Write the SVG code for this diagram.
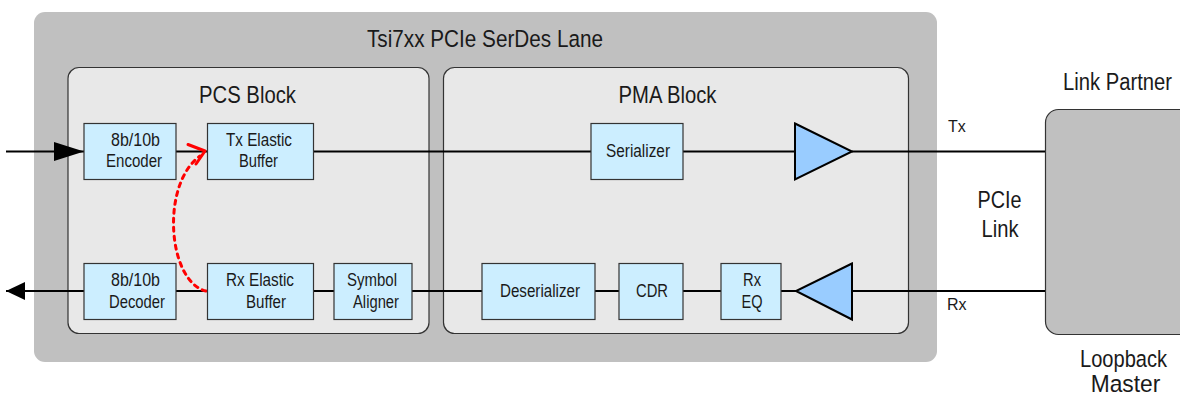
<svg xmlns="http://www.w3.org/2000/svg" width="1180" height="398" viewBox="0 0 1180 398">
<style>
  .big { font-family: "Liberation Sans", Arial, sans-serif; font-size: 24.5px; fill: #1a1a1a; text-anchor: middle; }
  .box { fill: #cceeff; stroke: #333; stroke-width: 1.2; }
  .bt { font-family: "Liberation Sans", Arial, sans-serif; font-size: 17.5px; fill: #1a1a1a; text-anchor: middle; }
  .lbl { font-family: "Liberation Sans", Arial, sans-serif; font-size: 16px; fill: #1a1a1a; }
  .blk { fill: #e8e8e8; stroke: #333; stroke-width: 1.2; }
  .amp { fill: #99ccff; stroke: #000; stroke-width: 2; }
  .wire { fill: none; stroke: #000; stroke-width: 2; }
  .loop { fill: none; stroke: #ff0000; stroke-width: 3; }
</style>
<defs>
  <marker id="inArrow" markerUnits="userSpaceOnUse" markerWidth="30" markerHeight="20" refX="30" refY="10" orient="auto">
    <path d="M0,0.5 L30,10 L0,19.5 z" fill="#000"/>
  </marker>
  <marker id="outArrow" markerUnits="userSpaceOnUse" markerWidth="20" markerHeight="20" refX="19" refY="10" orient="auto">
    <path d="M0,1 L19,10 L0,19 z" fill="#000"/>
  </marker>
</defs>

<g id="serdes-lane">
  <rect x="34" y="12" width="903" height="350" rx="11" fill="#c0c0c0"/>
  <text class="big" x="485" y="47" textLength="236" lengthAdjust="spacingAndGlyphs">Tsi7xx PCIe SerDes Lane</text>
</g>
<g id="pcs-block">
  <rect class="blk" x="68" y="67.5" width="361" height="266" rx="11"/>
  <text class="big" x="247.5" y="103" textLength="97" lengthAdjust="spacingAndGlyphs">PCS Block</text>
</g>
<g id="pma-block">
  <rect class="blk" x="443.5" y="67.5" width="465" height="266" rx="11"/>
  <text class="big" x="667.5" y="103" textLength="98" lengthAdjust="spacingAndGlyphs">PMA Block</text>
</g>
<g id="link-partner">
  <rect x="1045.5" y="109.5" width="160" height="225" rx="13" fill="#c0c0c0" stroke="#333" stroke-width="1.2"/>
  <text class="big" transform="translate(1117.5 90) scale(0.825 1)" x="0" y="0">Link Partner</text>
  <text class="big" transform="translate(1123.5 367) scale(0.82 1)" x="0" y="0">Loopback</text>
  <text class="big" transform="translate(1125.5 392) scale(0.93 1)" x="0" y="0">Master</text>
</g>

<g id="connectors">
  <path class="wire" d="M6,151.5 H84" marker-end="url(#inArrow)"/>
  <path class="wire" d="M176,151.5 H207"/>
  <path class="wire" d="M313,151.5 H591"/>
  <path class="wire" d="M683,151.5 H795"/>
  <path class="wire" d="M852,151.5 H1045"/>
  <path class="wire" d="M1045,291 H852"/>
  <path class="wire" d="M796,291 H781"/>
  <path class="wire" d="M721,291 H683"/>
  <path class="wire" d="M619,291 H595"/>
  <path class="wire" d="M482,291 H412"/>
  <path class="wire" d="M334,291 H313"/>
  <path class="wire" d="M207,291 H176"/>
  <path class="wire" d="M84,291 H6" marker-end="url(#outArrow)"/>
  <path class="loop" d="M206,291 C168,282 160,185 200,156" stroke-dasharray="4 5" stroke-linecap="round"/>
  <path class="loop" d="M188,144.5 L205,151 L196,164" stroke-linecap="round" stroke-linejoin="round"/>
</g>

<g id="encoder">
  <rect class="box" x="84" y="123.5" width="92" height="56"/>
  <text class="bt" x="135.5" y="146" textLength="49" lengthAdjust="spacingAndGlyphs">8b/10b</text>
  <text class="bt" x="134" y="167" textLength="56" lengthAdjust="spacingAndGlyphs">Encoder</text>
</g>
<g id="tx-elastic-buffer">
  <rect class="box" x="207.5" y="123.5" width="106" height="56"/>
  <text class="bt" x="259" y="146" textLength="66" lengthAdjust="spacingAndGlyphs">Tx Elastic</text>
  <text class="bt" x="258.5" y="167" textLength="39" lengthAdjust="spacingAndGlyphs">Buffer</text>
</g>
<g id="serializer">
  <rect class="box" x="591" y="123.5" width="92" height="56"/>
  <text class="bt" x="638" y="157" textLength="64" lengthAdjust="spacingAndGlyphs">Serializer</text>
</g>
<g id="tx-driver">
  <path class="amp" d="M795,123.5 L852,151.5 L795,179.5 z"/>
</g>
<g id="decoder">
  <rect class="box" x="84" y="263.5" width="92" height="56"/>
  <text class="bt" x="135.5" y="286" textLength="49" lengthAdjust="spacingAndGlyphs">8b/10b</text>
  <text class="bt" x="137" y="308" textLength="56" lengthAdjust="spacingAndGlyphs">Decoder</text>
</g>
<g id="rx-elastic-buffer">
  <rect class="box" x="207.5" y="263.5" width="106" height="56"/>
  <text class="bt" x="260" y="286" textLength="68" lengthAdjust="spacingAndGlyphs">Rx Elastic</text>
  <text class="bt" x="266" y="308" textLength="40" lengthAdjust="spacingAndGlyphs">Buffer</text>
</g>
<g id="symbol-aligner">
  <rect class="box" x="334" y="263.5" width="78" height="56"/>
  <text class="bt" x="372" y="286" textLength="50" lengthAdjust="spacingAndGlyphs">Symbol</text>
  <text class="bt" x="376" y="308" textLength="46" lengthAdjust="spacingAndGlyphs">Aligner</text>
</g>
<g id="deserializer">
  <rect class="box" x="482" y="263.5" width="113" height="56"/>
  <text class="bt" x="540" y="297" textLength="80" lengthAdjust="spacingAndGlyphs">Deserializer</text>
</g>
<g id="cdr">
  <rect class="box" x="619" y="263.5" width="64" height="56"/>
  <text class="bt" x="652" y="297" textLength="32" lengthAdjust="spacingAndGlyphs">CDR</text>
</g>
<g id="rx-eq">
  <rect class="box" x="721" y="263.5" width="60" height="56"/>
  <text class="bt" x="752" y="286" textLength="18" lengthAdjust="spacingAndGlyphs">Rx</text>
  <text class="bt" x="752" y="308" textLength="21" lengthAdjust="spacingAndGlyphs">EQ</text>
</g>
<g id="rx-receiver">
  <path class="amp" d="M852,263.5 L796,291 L852,319.5 z"/>
</g>

<g id="link-labels">
  <text class="lbl" x="948" y="132">Tx</text>
  <text class="lbl" x="947" y="310">Rx</text>
  <text class="big" x="999.5" y="207.5" textLength="44" lengthAdjust="spacingAndGlyphs">PCIe</text>
  <text class="big" x="1000" y="236.5" textLength="37" lengthAdjust="spacingAndGlyphs">Link</text>
</g>
</svg>
